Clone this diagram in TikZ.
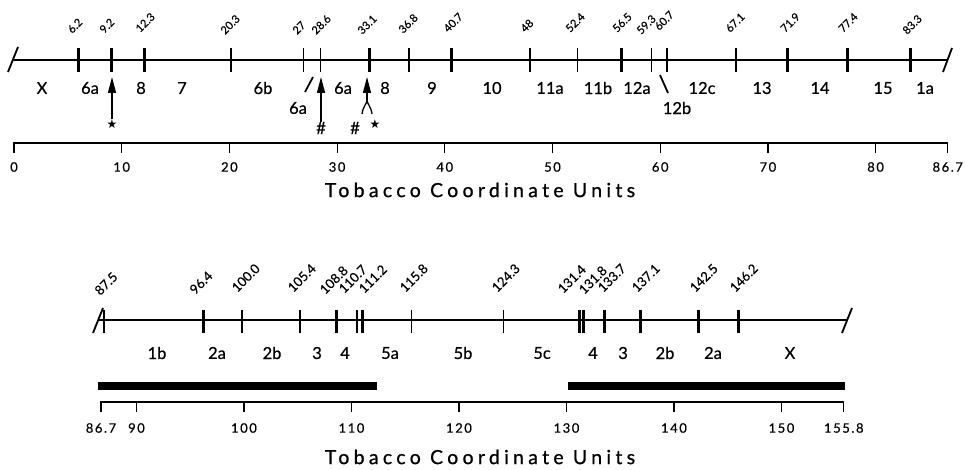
\documentclass[tikz,border=0pt]{standalone}
\usepackage{fontspec}
\usepackage{graphicx}
\setmainfont{Lato}
\newfontfamily\medium[FakeBold=0.6]{Lato}
\newfontfamily\spaced[LetterSpace=12,FakeBold=0.5]{Lato}
\newfontfamily\ttlfont[LetterSpace=22,FakeBold=0.8]{Lato}
\newfontfamily\symfont{DejaVu Sans}
\newcommand{\diag}[1]{\rotatebox{45}{#1}}
\usetikzlibrary{arrows.meta}
\begin{document}
\begin{tikzpicture}[x=1pt,y=-1pt,
  hvy/.style={line width=2.8pt},
  thn/.style={line width=1.2pt},
  featline/.style={line width=2.8pt},
  axisline/.style={line width=1.2pt},
  slashline/.style={line width=1.8pt},
  bar/.style={line width=8pt},
  num/.style={font=\fontsize{11}{11}\medium, anchor=base west, inner sep=0pt},
  bnum/.style={font=\fontsize{13}{13}\medium, anchor=base west, inner sep=0pt},
  seg/.style={font=\fontsize{16.5}{16.5}\medium, inner sep=0pt},
  axnum/.style={font=\fontsize{13}{13}\spaced, inner sep=0pt},
  ttl/.style={font=\fontsize{19.5}{19.5}\ttlfont, inner sep=0pt},
  arr/.style={line width=1.3pt, -{Triangle[length=16pt,width=8pt]}},
  fork/.style={line width=1.3pt},
  sym/.style={font=\fontsize{17}{17}\medium, inner sep=0pt},
  starsym/.style={font=\fontsize{12}{12}\symfont, inner sep=0pt}
]
\useasboundingbox (0,0) rectangle (965,470);

% ---------------- top map ----------------
\draw[featline] (13,60) -- (948,60);
\draw[slashline] (8,72) -- (18,47);
\draw[slashline] (943,72) -- (952,48);
\foreach \v in {6.2,9.2,12.3,20.3,33.1,36.8,40.7,48,56.5,67.1,71.9,77.4,83.3}
  \draw[hvy] ({12+10.79*\v},48) -- ({12+10.79*\v},72);
\foreach \v in {27,28.6,52.4,59.3,60.7}
  \draw[thn] ({12+10.79*\v},48) -- ({12+10.79*\v},72);
\foreach \t/\xs/\ys [count=\i] in {6.2/72/34, 9.2/104/34, 12.3/140/33, 20.3/225/35,
   27/297/35, 28.6/316/35, 33.1/362/35, 36.8/403/34, 40.7/448/33, 48/525/33,
   52.4/570/33, 56.5/617/33, 59.3/641/35, 60.7/659/31, 67.1/730/33, 71.9/785/33,
   77.4/843/33, 83.3/907/35}
  \node[num] (tn\i) at ({\xs-5.6},\ys) {\diag{\t}};

\foreach \t/\xs/\ys [count=\i] in {X/42/88, 6a/90/88, 8/141/88, 7/182/88, 6b/263/88,
   6a/298/108, 6a/343/88, 8/385/88, 9/432/88, 10/492/88, 11a/550/88, 11b/598/88,
   12a/637/88, 12b/677/108, 12c/702/88, 13/762/88, 14/820/88, 15/883/88, 1a/925/88}
  \node[seg] (ts\i) at (\xs,\ys) {\t};
\draw[slashline] (305,92) -- (313,77);
\draw[slashline] (660,75) -- (668,93);

% arrows
\node[starsym] (starA) at (112,124) {★};
\coordinate (tipA) at (112,77);
\draw[arr] (starA.north) -- (tipA);
\node[sym] (hashA) at (321,128) {\#};
\coordinate (tipB) at (321,77);
\draw[arr] (hashA.north) -- (tipB);
\node[sym] (hashB) at (355,128) {\#};
\node[starsym] (starB) at (375,124) {★};
\coordinate (forkC) at (367,100);
\coordinate (forkL) at (362,114);
\coordinate (forkR) at (372,114);
\coordinate (tipC) at (367,77);
\draw[arr] (forkC) -- (tipC);
\draw[fork] (forkL) .. controls (363,106) and (367,104) .. (forkC)
            .. controls (367,104) and (371,106) .. (forkR);

% top scale
\draw[axisline] (14,143) -- (948,143);
\foreach \v [count=\i] in {0,10,20,30,40,50,60,70,80,86.7}{
  \draw[axisline] ({14+10.77*\v},142.4) -- ({14+10.77*\v},153);
  \node[axnum] (ta\i) at ({14+10.77*\v},167) {\v};
}
\node[ttl] (title1) at (480,190) {Tobacco Coordinate Units};

% ---------------- bottom map ----------------
\draw[featline] (98,320) -- (847,320);
\draw[slashline] (93,333) -- (103,308);
\draw[slashline] (842,333) -- (852,308);
\foreach \v in {96.4,100.0,105.4,108.8,110.7,111.2,131.4,131.8,133.7,137.1,142.5,146.2}
  \draw[hvy] ({99+10.75*(\v-86.7)},310) -- ({99+10.75*(\v-86.7)},333);
\draw[thn] (104,310) -- (104,333);
\foreach \v in {115.8,124.3}
  \draw[thn] ({99+10.75*(\v-86.7)},310) -- ({99+10.75*(\v-86.7)},333);
\foreach \t/\xs/\ys [count=\i] in {87.5/100/296, 96.4/195/295, 100.0/237/293,
   105.4/293/293, 108.8/325/295, 110.7/344/294, 111.2/364/294, 115.8/405/293,
   124.3/497/293, 131.4/563/294, 131.8/584/295, 133.7/603/293, 137.1/637/293,
   142.5/695/293, 146.2/735/293}
  \node[bnum] (bn\i) at ({\xs-6.6},\ys) {\diag{\t}};
\foreach \t/\xs [count=\i] in {1b/157, 2a/217, 2b/272, 3/317, 4/345, 5a/390, 5b/463,
   5c/542, 4/593, 3/623, 2b/665, 2a/713, X/790}
  \node[seg] (bs\i) at (\xs,353) {\t};

\draw[bar] (98,386) -- (377,386);
\draw[bar] (568,386) -- (845,386);

\draw[axisline] (101,402) -- (844,402);
\foreach \v [count=\i] in {86.7,90,100,110,120,130,140,150,155.8}{
  \draw[axisline] ({101+10.75*(\v-86.7)},401.4) -- ({101+10.75*(\v-86.7)},412);
  \node[axnum] (ba\i) at ({101+10.75*(\v-86.7)},428) {\v};
}
\node[ttl] (title2) at (480,457) {Tobacco Coordinate Units};
\end{tikzpicture}
\end{document}
